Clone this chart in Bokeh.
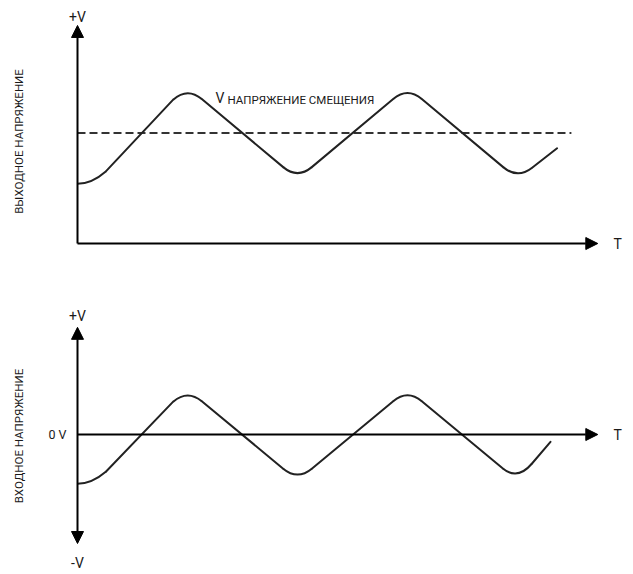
import math
from bokeh.plotting import figure
from bokeh.models import Arrow, NormalHead, Range1d, Label
from bokeh.layouts import column
from bokeh.embed import file_html
from bokeh.resources import INLINE

# ---------------- data ----------------
# output voltage (top): triangle wave riding on a bias voltage
out_t = [0.0, 1.0, 2.0, 3.0, 4.0, 4.36]
out_v = [1.30, 3.40, 1.40, 3.40, 1.40, 2.07]
bias_v = 2.40
bias_t = [0.0, 4.49]
out_axis_t_max = 4.73
out_axis_v_max = 4.74

# input voltage (bottom): triangle wave around 0 V
in_t = [0.0, 1.0, 2.0, 3.0, 4.0, 4.30]
in_v = [-1.07, 0.98, -1.00, 0.98, -1.00, -0.16]
in_axis_t_max = 4.73
in_axis_v_max = 2.33
in_axis_v_min = -2.37

# texts
top_ylabel = "ВЫХОДНОЕ НАПРЯЖЕНИЕ"
bot_ylabel = "ВХОДНОЕ НАПРЯЖЕНИЕ"
bias_main = "V"
bias_sub = "НАПРЯЖЕНИЕ СМЕЩЕНИЯ"
t_label = "T"
plus_v = "+V"
minus_v = "-V"
zero_v = "0 V"

# ---------------- layout constants (pixels) ----------------
W = 625
TOP_H = 290
BOT_H = 280
X0 = 77            # y-axis position inside the canvas
SX = 110.0         # px per time unit
SY = 46.0          # px per voltage unit
TOP_Y0 = 243       # x-axis position (from top of top canvas)
BOT_Y0 = 434 - TOP_H

FONT = "Roboto"
INK = "#1a1a1a"
LINE = "#222222"


def make_fig(h, y0):
    p = figure(width=W, height=h, output_backend="svg", toolbar_location=None,
               x_range=Range1d(-X0 / SX, (W - X0) / SX),
               y_range=Range1d(-(h - y0) / SY, y0 / SY),
               min_border=0, min_border_left=0, min_border_right=0,
               min_border_top=0, min_border_bottom=0)
    p.xaxis.visible = False
    p.yaxis.visible = False
    p.grid.visible = False
    p.outline_line_color = None
    p.background_fill_color = "white"
    p.border_fill_color = "white"
    return p


def rounded_wave(p, ts, vs, r=0.13, color=LINE, width=2.0):
    """Draw a polyline through (ts, vs) with rounded interior corners."""
    n = len(ts)
    s1 = (vs[1] - vs[0]) / (ts[1] - ts[0])
    sx0, sy0 = ts[0], vs[0]
    cx0, cy0 = ts[0] + r, vs[0]
    bx0, by0 = ts[0] + 2 * r, vs[0] + s1 * r
    p.quadratic(x0=[sx0], y0=[sy0], x1=[bx0], y1=[by0], cx=[cx0], cy=[cy0],
                line_color=color, line_width=width)
    seg_start = (bx0, by0)
    xs0, ys0, xs1, ys1 = [], [], [], []
    qx0, qy0, qx1, qy1, qcx, qcy = [], [], [], [], [], []
    for i in range(1, n - 1):
        sp = (vs[i] - vs[i - 1]) / (ts[i] - ts[i - 1])
        sn = (vs[i + 1] - vs[i]) / (ts[i + 1] - ts[i])
        a = (ts[i] - r, vs[i] - sp * r)
        b = (ts[i] + r, vs[i] + sn * r)
        xs0.append(seg_start[0]); ys0.append(seg_start[1])
        xs1.append(a[0]); ys1.append(a[1])
        qx0.append(a[0]); qy0.append(a[1])
        qx1.append(b[0]); qy1.append(b[1])
        qcx.append(ts[i]); qcy.append(vs[i])
        seg_start = b
    xs0.append(seg_start[0]); ys0.append(seg_start[1])
    xs1.append(ts[-1]); ys1.append(vs[-1])
    p.segment(x0=xs0, y0=ys0, x1=xs1, y1=ys1, line_color=color,
              line_width=width, line_cap="round")
    p.quadratic(x0=qx0, y0=qy0, x1=qx1, y1=qy1, cx=qcx, cy=qcy,
                line_color=color, line_width=width)


def arrow(p, x0, y0, x1, y1, both=False):
    head = NormalHead(size=12, fill_color="black", line_color="black", line_width=1)
    kw = {}
    if both:
        kw["start"] = NormalHead(size=12, fill_color="black", line_color="black", line_width=1)
    p.add_layout(Arrow(end=head, x_start=x0, y_start=y0, x_end=x1, y_end=y1,
                       line_color="black", line_width=2, **kw))


def label(p, x, y, text, size, align="left", baseline="alphabetic", angle=0.0,
          font=FONT):
    p.add_layout(Label(x=x, y=y, text=text, text_font=font,
                       text_font_size=f"{size}px", text_color=INK,
                       text_align=align, text_baseline=baseline, angle=angle))


# ---------------- top panel ----------------
top = make_fig(TOP_H, TOP_Y0)
top.line(x=bias_t, y=[bias_v, bias_v], line_color="#333333", line_width=2,
         line_dash="8 4")
rounded_wave(top, out_t, out_v)
arrow(top, 0, 0, out_axis_t_max, 0)
arrow(top, 0, 0, 0, out_axis_v_max)

label(top, 0, (TOP_Y0 - 16) / SY, plus_v, 14, align="center")
label(top, (613 - 77) / SX, 0, t_label, 14, baseline="middle")
label(top, (215 - 77) / SX, (243 - 97) / SY, bias_main, 14)
label(top, (227 - 77) / SX, (243 - 99.5) / SY, bias_sub, 11.5)
label(top, (18.5 - 77) / SX, (243 - 141) / SY, top_ylabel, 11.5,
      align="center", baseline="middle", angle=math.pi / 2)

# ---------------- bottom panel ----------------
bot = make_fig(BOT_H, BOT_Y0)
rounded_wave(bot, in_t, in_v)
arrow(bot, 0, 0, in_axis_t_max, 0)
arrow(bot, 0, in_axis_v_min, 0, in_axis_v_max, both=True)

label(bot, 0, (434 - 315) / SY, plus_v, 14, align="center")
label(bot, 0, -(562 - 434) / SY, minus_v, 14, align="center")
label(bot, (66 - 77) / SX, 0, zero_v, 12.5, align="right", baseline="middle")
label(bot, (613 - 77) / SX, 0, t_label, 14, baseline="middle")
label(bot, (18.5 - 77) / SX, (434 - 435.5) / SY, bot_ylabel, 11.5,
      align="center", baseline="middle", angle=math.pi / 2)

layout = column(top, bot, spacing=0)
open("out.html", "w").write(file_html(layout, INLINE))
